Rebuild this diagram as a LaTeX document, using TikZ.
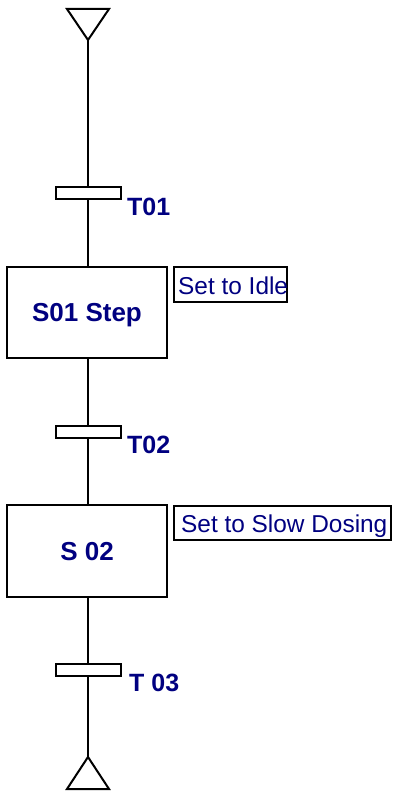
\documentclass[tikz,border=0pt]{standalone}
\usepackage{fontspec}
\setmainfont{Liberation Sans}
\definecolor{lblnavy}{RGB}{0,0,128}
\begin{document}
\begin{tikzpicture}[x=1pt,y=-1pt,
  wire/.style={line width=2pt,black},
  stepbox/.style={draw=black,line width=2pt,fill=white,minimum width=160pt,minimum height=91pt,inner sep=0pt,
    text height=18.6pt,text depth=0pt,
    font=\fontsize{26}{31}\selectfont\bfseries,text=lblnavy},
  transbar/.style={draw=black,line width=2pt,fill=white,minimum width=65pt,minimum height=12pt,inner sep=0pt},
  translbl/.style={anchor=base west,inner sep=0pt,font=\fontsize{25}{30}\selectfont\bfseries,text=lblnavy},
  actbox/.style={draw=black,line width=2pt,inner sep=0pt,anchor=north west},
  acttext/.style={anchor=base west,inner sep=0pt,font=\fontsize{24.4}{29}\selectfont,text=lblnavy}]
\useasboundingbox (0,0) rectangle (393,794);
% top triangle
\coordinate (topapex) at (88,40);
\draw[wire,line join=miter] (67,9) -- (109,9) -- (topapex) -- cycle;
% bottom triangle
\coordinate (botapex) at (88,757);
\draw[wire,line join=miter] (67,789) -- (109,789) -- (botapex) -- cycle;
% transitions
\node[transbar] (t1) at (88,193) {};
\node[transbar] (t2) at (88,432) {};
\node[transbar] (t3) at (88,669.5) {};
% steps
\node[stepbox] (s1) at (87,312.5) {S01 Step};
\node[stepbox,minimum height=92pt] (s2) at (87,551) {S 02};
% connectors
\draw[wire] (topapex) -- (t1.north);
\draw[wire] (t1.south) -- (s1.north -| t1.south);
\draw[wire] (s1.south -| t1.south) -- (t2.north);
\draw[wire] (t2.south) -- (s2.north -| t2.south);
\draw[wire] (s2.south -| t2.south) -- (t3.north);
\draw[wire] (t3.south) -- (botapex);
% transition labels
\node[translbl] (t1l) at (127,216) {T01};
\node[translbl] (t2l) at (127,453) {T02};
\node[translbl] (t3l) at (129,691) {T 03};
% actions
\node[actbox,minimum width=113pt,minimum height=35pt] (a1) at (173,266) {};
\node[acttext] (a1t) at (178,294) {Set to Idle};
\node[actbox,minimum width=217pt,minimum height=34pt] (a2) at (173,505) {};
\node[acttext] (a2t) at (181,532) {Set to Slow Dosing};
\end{tikzpicture}
\end{document}
